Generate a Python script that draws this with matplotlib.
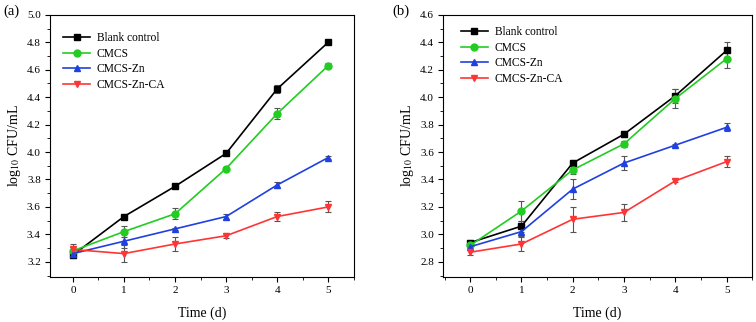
import matplotlib
matplotlib.use("Agg")
import matplotlib.pyplot as plt
from matplotlib.ticker import MultipleLocator

plt.rcParams["font.family"] = ["Liberation Serif", "DejaVu Serif"]
plt.rcParams["mathtext.fontset"] = "stix"

days = [0, 1, 2, 3, 4, 5]
labels = ["Blank control", "CMCS", "CMCS-Zn", "CMCS-Zn-CA"]
colors = ["#000000", "#22cc22", "#2040e0", "#ff3535"]
markers = ["s", "o", "^", "v"]

# panel (a)
a_vals = [
    [3.25, 3.53, 3.75, 3.99, 4.46, 4.80],
    [3.28, 3.42, 3.55, 3.88, 4.28, 4.63],
    [3.26, 3.35, 3.44, 3.53, 3.76, 3.96],
    [3.29, 3.26, 3.33, 3.39, 3.53, 3.60],
]
a_err = [
    [0.02, 0.02, 0.01, 0.01, 0.03, 0.01],
    [0.03, 0.04, 0.04, 0.01, 0.04, 0.02],
    [0.02, 0.05, 0.01, 0.02, 0.02, 0.01],
    [0.04, 0.06, 0.05, 0.02, 0.03, 0.04],
]
a_yticks = [3.2, 3.4, 3.6, 3.8, 4.0, 4.2, 4.4, 4.6, 4.8, 5.0]

# panel (b)
b_vals = [
    [2.94, 3.06, 3.52, 3.73, 4.01, 4.34],
    [2.92, 3.17, 3.47, 3.66, 3.99, 4.28],
    [2.91, 3.02, 3.33, 3.52, 3.65, 3.78],
    [2.87, 2.93, 3.11, 3.16, 3.39, 3.53],
]
b_err = [
    [0.02, 0.04, 0.02, 0.02, 0.05, 0.06],
    [0.02, 0.07, 0.03, 0.02, 0.07, 0.07],
    [0.02, 0.03, 0.07, 0.05, 0.01, 0.03],
    [0.02, 0.05, 0.09, 0.06, 0.01, 0.04],
]
b_yticks = [2.8, 3.0, 3.2, 3.4, 3.6, 3.8, 4.0, 4.2, 4.4, 4.6]

fig = plt.figure(figsize=(7.56, 3.22), dpi=100)
ax_a = fig.add_axes([0.066, 0.140, 0.402, 0.814])
ax_b = fig.add_axes([0.586, 0.140, 0.409, 0.814])


def draw(ax, vals, errs, xlim, ylim, yticks, leg_anchor):
    for v, e, c, m, lab in zip(vals, errs, colors, markers, labels):
        ax.errorbar(days, v, yerr=e, fmt="none", ecolor="#555555",
                    elinewidth=0.8, capsize=2, capthick=0.8, zorder=2)
        ax.plot(days, v, color=c, marker=m, markersize=5, lw=1.2,
                label=lab, zorder=3)
    ax.set_xlim(*xlim)
    ax.set_ylim(*ylim)
    ax.set_xticks(days)
    ax.set_yticks(yticks)
    ax.xaxis.set_minor_locator(MultipleLocator(0.5))
    ax.yaxis.set_minor_locator(MultipleLocator(0.1))
    ax.tick_params(which="both", direction="out", labelsize=8)
    ax.tick_params(which="major", length=3.5, width=0.8, pad=3)
    ax.tick_params(which="minor", length=2, width=0.6)
    for s in ax.spines.values():
        s.set_linewidth(0.8)
    ax.set_xlabel("Time (d)", fontsize=10, labelpad=8)
    ax.set_ylabel(r"log$_{10}$ CFU/mL", fontsize=10)
    w = ax.get_position().width * 756
    ax.yaxis.set_label_coords(-27 / w, 0.5)
    ax.legend(loc="upper left", bbox_to_anchor=leg_anchor, frameon=False,
              fontsize=8.3, handlelength=2.35, handletextpad=0.6,
              labelspacing=0.33, borderpad=0, borderaxespad=0)


draw(ax_a, a_vals, a_err, (-0.45, 5.5), (3.09, 5.0), a_yticks, (0.043, 0.935))
draw(ax_b, b_vals, b_err, (-0.53, 5.5), (2.69, 4.6), b_yticks, (0.058, 0.958))

fig.text(0.004, 0.955, "(a)", fontsize=10.5)
fig.text(0.519, 0.955, "(b)", fontsize=10.5)

fig.savefig("out.png", dpi=100)
